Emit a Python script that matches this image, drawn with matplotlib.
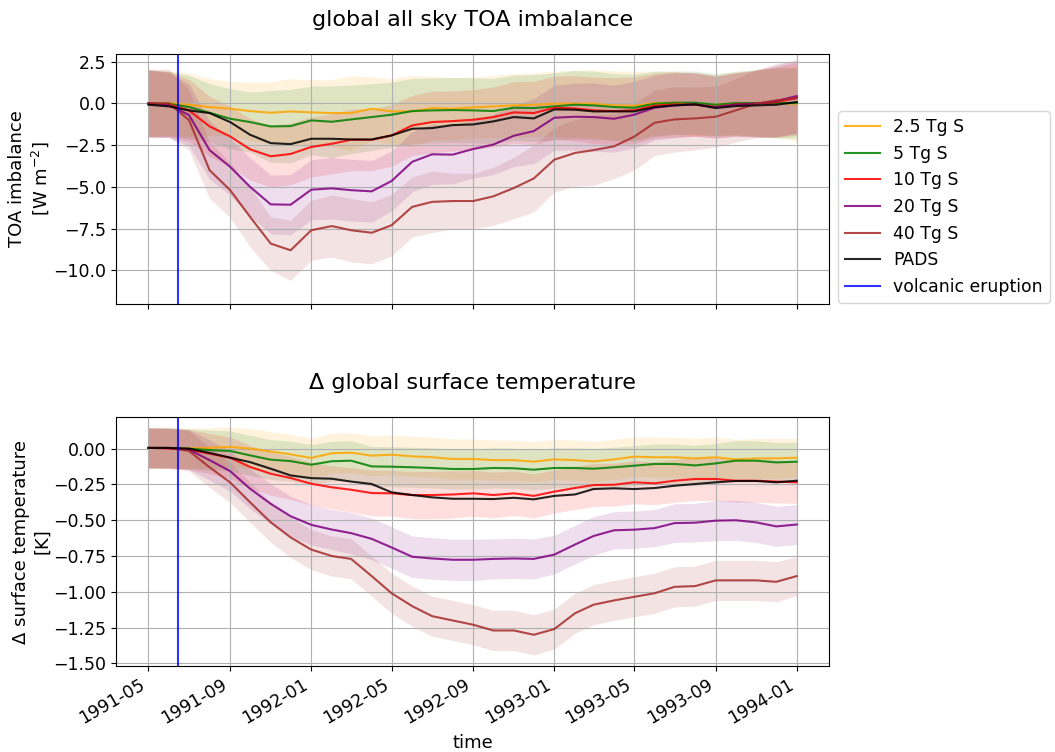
import matplotlib
matplotlib.use('Agg')
import matplotlib.pyplot as plt
import matplotlib.dates as mdates
import numpy as np
import pandas as pd

# monthly means 1991-05 .. 1994-01
months = pd.date_range('1991-05-01', '1994-01-01', freq='MS')
eruption = pd.Timestamp('1991-06-15')

labels = ['2.5 Tg S', '5 Tg S', '10 Tg S', '20 Tg S', '40 Tg S']
colors = ['orange', 'green', 'red', 'purple', 'brown']

# TOA imbalance (W m-2), ensemble mean
toa_25 = [0, 0.02, -0.08, -0.22, -0.32, -0.46, -0.56, -0.48, -0.54, -0.58, -0.58, -0.32, -0.48, -0.48, -0.28, -0.32,
          -0.24, -0.18, -0.12, -0.08, -0.02, -0.02, -0.02, -0.12, -0.14, 0.02, 0.02, -0.06, -0.08, -0.02, 0.02, 0.04, -0.02]
toa_5 = [0, -0.02, -0.22, -0.56, -0.92, -1.12, -1.38, -1.36, -1.02, -1.1, -0.96, -0.82, -0.68, -0.46, -0.42, -0.4,
         -0.42, -0.46, -0.26, -0.28, -0.18, -0.08, -0.12, -0.22, -0.26, -0.02, 0.04, 0.04, -0.08, 0.02, 0.02, 0.02, 0.02]
toa_10 = [0, -0.06, -0.42, -1.38, -1.98, -2.75, -3.17, -3.03, -2.61, -2.42, -2.18, -2.18, -1.92, -1.32, -1.12, -1.06,
          -0.98, -0.82, -0.54, -0.58, -0.26, -0.3, -0.42, -0.46, -0.42, -0.14, -0.06, -0.08, -0.22, -0.06, -0.02, 0.08, 0.32]
toa_20 = [0, -0.1, -0.7, -2.8, -3.8, -5.0, -6.05, -6.07, -5.17, -5.09, -5.2, -5.27, -4.65, -3.5, -3.05, -3.07,
          -2.73, -2.47, -1.94, -1.66, -0.86, -0.8, -0.82, -0.92, -0.68, -0.26, -0.12, -0.06, -0.22, -0.08, -0.02, 0.14, 0.44]
toa_40 = [0, 0, -1.0, -4.0, -5.2, -6.8, -8.4, -8.8, -7.6, -7.35, -7.6, -7.75, -7.3, -6.2, -5.9, -5.85,
          -5.85, -5.57, -5.07, -4.5, -3.37, -2.97, -2.8, -2.57, -2.0, -1.16, -0.96, -0.9, -0.8, -0.42, -0.02, 0.18, 0.32]
toa_pads = [-0.08, -0.18, -0.42, -0.58, -1.12, -1.88, -2.38, -2.44, -2.12, -2.12, -2.16, -2.16, -1.92, -1.52, -1.48, -1.3,
            -1.26, -1.08, -0.82, -0.9, -0.36, -0.38, -0.48, -0.48, -0.48, -0.22, -0.12, -0.06, -0.28, -0.16, -0.12, -0.08, 0.08]

# TOA ensemble spread (std)
toa_25_sd = [1.98, 1.92, 1.9, 1.7, 1.64, 1.74, 1.84, 1.96, 1.96, 2.0, 2.25, 1.9, 1.96, 2.15, 1.9, 1.86,
             1.82, 1.86, 1.9, 1.9, 1.96, 2.0, 2.04, 2.06, 2.08, 1.92, 1.86, 1.88, 1.82, 1.9, 2.0, 2.1, 2.24]
toa_5_sd = [2.0, 1.95, 1.9, 1.75, 1.8, 1.8, 2.15, 2.2, 2.05, 2.15, 2.05, 2.0, 1.95, 1.95, 1.95, 1.95,
            1.95, 1.95, 1.95, 2.0, 2.0, 2.05, 2.05, 2.0, 2.0, 1.95, 1.9, 1.9, 1.85, 1.9, 2.0, 2.1, 2.1]
toa_10_sd = [2.0, 1.95, 1.85, 1.8, 1.8, 1.85, 1.84, 1.85, 1.8, 1.8, 1.85, 1.85, 1.85, 1.8, 1.85, 1.8,
             1.8, 1.8, 1.85, 1.9, 1.9, 1.95, 2.0, 2.0, 2.0, 1.95, 1.95, 1.9, 1.85, 1.9, 2.0, 2.1, 2.15]
toa_20_sd = [2.0, 1.95, 1.85, 1.75, 1.7, 1.75, 1.76, 1.8, 1.8, 1.85, 1.85, 1.85, 1.8, 1.8, 1.8, 1.75,
             1.75, 1.8, 1.85, 1.95, 1.95, 2.0, 2.05, 2.0, 2.0, 1.95, 1.95, 1.9, 1.85, 1.9, 2.0, 2.15, 2.2]
toa_40_sd = [2.05, 2.05, 1.8, 1.7, 1.64, 1.8, 1.6, 1.8, 1.8, 1.86, 1.9, 1.86, 1.84, 1.8, 1.84, 1.66,
             1.66, 1.74, 1.84, 2.0, 1.94, 2.0, 2.1, 1.94, 2.0, 1.96, 1.96, 1.88, 1.82, 1.9, 2.04, 2.2, 2.24]

# surface temperature anomaly (K), ensemble mean
tas_25 = [0.005, 0.005, 0.002, 0.005, 0.012, 0.0, -0.02, -0.04, -0.065, -0.032, -0.028, -0.049, -0.042, -0.054, -0.06, -0.072,
          -0.072, -0.08, -0.08, -0.091, -0.075, -0.08, -0.089, -0.075, -0.056, -0.06, -0.06, -0.068, -0.06, -0.075, -0.068, -0.068, -0.063]
tas_5 = [0.005, 0.005, 0.0, -0.01, -0.016, -0.047, -0.077, -0.087, -0.112, -0.088, -0.084, -0.124, -0.126, -0.13, -0.135, -0.142,
         -0.142, -0.135, -0.137, -0.147, -0.135, -0.135, -0.14, -0.13, -0.119, -0.107, -0.107, -0.117, -0.103, -0.084, -0.084, -0.096, -0.091]
tas_10 = [0.005, 0.0, -0.007, -0.035, -0.063, -0.128, -0.175, -0.205, -0.245, -0.27, -0.287, -0.31, -0.312, -0.324, -0.324, -0.32,
          -0.312, -0.324, -0.312, -0.33, -0.30, -0.275, -0.254, -0.252, -0.235, -0.242, -0.224, -0.212, -0.212, -0.224, -0.224, -0.23, -0.235]
tas_20 = [0.005, 0.005, -0.007, -0.08, -0.157, -0.28, -0.385, -0.472, -0.532, -0.565, -0.59, -0.63, -0.69, -0.755, -0.767, -0.776,
          -0.776, -0.77, -0.767, -0.77, -0.74, -0.67, -0.61, -0.57, -0.566, -0.555, -0.52, -0.517, -0.503, -0.5, -0.515, -0.543, -0.53]
tas_40 = [0.005, 0.005, -0.016, -0.13, -0.236, -0.375, -0.514, -0.62, -0.705, -0.75, -0.77, -0.89, -1.01, -1.10, -1.17, -1.20,
          -1.23, -1.27, -1.27, -1.30, -1.26, -1.15, -1.09, -1.06, -1.035, -1.01, -0.965, -0.96, -0.92, -0.92, -0.92, -0.93, -0.89]
tas_pads = [0.005, 0.005, 0.0, -0.03, -0.063, -0.094, -0.14, -0.187, -0.206, -0.21, -0.23, -0.247, -0.305, -0.324, -0.34, -0.35,
            -0.35, -0.352, -0.343, -0.354, -0.33, -0.32, -0.282, -0.277, -0.282, -0.275, -0.259, -0.247, -0.235, -0.226, -0.226, -0.235, -0.224]

# surface temperature ensemble spread (std)
tas_25_sd = [0.14, 0.14, 0.14, 0.14, 0.14, 0.14, 0.14, 0.14, 0.14, 0.14, 0.14, 0.14, 0.14, 0.14, 0.14, 0.14,
             0.14, 0.14, 0.14, 0.14, 0.14, 0.14, 0.14, 0.14, 0.14, 0.14, 0.14, 0.14, 0.14, 0.14, 0.14, 0.14, 0.135]
tas_5_sd = [0.14, 0.14, 0.14, 0.14, 0.14, 0.14, 0.14, 0.14, 0.14, 0.14, 0.14, 0.14, 0.14, 0.14, 0.14, 0.14,
            0.14, 0.14, 0.14, 0.14, 0.14, 0.14, 0.14, 0.14, 0.14, 0.14, 0.14, 0.14, 0.14, 0.14, 0.14, 0.14, 0.135]
tas_10_sd = [0.14, 0.14, 0.14, 0.14, 0.145, 0.15, 0.15, 0.15, 0.15, 0.15, 0.155, 0.16, 0.16, 0.165, 0.165, 0.165,
             0.16, 0.16, 0.155, 0.155, 0.15, 0.15, 0.15, 0.15, 0.15, 0.15, 0.15, 0.15, 0.15, 0.15, 0.15, 0.15, 0.147]
tas_20_sd = [0.14, 0.14, 0.14, 0.14, 0.14, 0.14, 0.14, 0.14, 0.14, 0.14, 0.145, 0.145, 0.145, 0.145, 0.145, 0.144,
             0.144, 0.14, 0.14, 0.14, 0.135, 0.135, 0.135, 0.13, 0.13, 0.13, 0.135, 0.135, 0.14, 0.14, 0.14, 0.14, 0.14]
tas_40_sd = [0.14, 0.14, 0.14, 0.14, 0.14, 0.14, 0.14, 0.14, 0.14, 0.14, 0.14, 0.14, 0.14, 0.14, 0.14, 0.14,
             0.14, 0.14, 0.14, 0.14, 0.14, 0.14, 0.14, 0.14, 0.14, 0.14, 0.14, 0.14, 0.14, 0.14, 0.14, 0.14, 0.136]

toa_means = [toa_25, toa_5, toa_10, toa_20, toa_40]
toa_sds = [toa_25_sd, toa_5_sd, toa_10_sd, toa_20_sd, toa_40_sd]
tas_means = [tas_25, tas_5, tas_10, tas_20, tas_40]
tas_sds = [tas_25_sd, tas_5_sd, tas_10_sd, tas_20_sd, tas_40_sd]

fig, (ax1, ax2) = plt.subplots(2, 1, sharex=True, figsize=(10.55, 7.52), dpi=100)
fig.subplots_adjust(left=0.110, right=0.786, top=0.928, bottom=0.114, hspace=0.453)


def draw(ax, means, sds, pads):
    for m, s, c in zip(means, sds, colors):
        m = np.array(m)
        s = np.array(s)
        ax.fill_between(months, m - s, m + s, color=c, alpha=0.13, linewidth=0)
    for m, c, lab in zip(means, colors, labels):
        ax.plot(months, m, color=c, alpha=0.85, lw=1.5, label=lab)
    ax.plot(months, pads, color='black', alpha=0.85, lw=1.5, label='PADS')
    ax.axvline(eruption, color='blue', alpha=0.8, lw=1.5, label='volcanic eruption')
    ax.grid(True)
    ax.tick_params(labelsize=12.5)


draw(ax1, toa_means, toa_sds, toa_pads)
draw(ax2, tas_means, tas_sds, tas_pads)

ax1.set_ylim(-12.0, 2.95)
ax1.set_yticks([-10, -7.5, -5, -2.5, 0, 2.5])
ax2.set_ylim(-1.52, 0.223)
ax2.set_yticks([-1.5, -1.25, -1.0, -0.75, -0.5, -0.25, 0.0])

ax1.set_title('global all sky TOA imbalance', fontsize=16, pad=20)
ax2.set_title('Δ global surface temperature', fontsize=16, pad=20)
ax1.set_ylabel('TOA imbalance\n[W m$^{-2}$]', fontsize=13, labelpad=1.5)
ax2.set_ylabel('Δ surface temperature\n[K]', fontsize=13, labelpad=1.5)
ax2.set_xlabel('time', fontsize=13)

ax2.xaxis.set_major_locator(mdates.MonthLocator(bymonth=[1, 5, 9]))
ax2.xaxis.set_major_formatter(mdates.DateFormatter('%Y-%m'))
for lbl in ax2.get_xticklabels():
    lbl.set_rotation(30)
    lbl.set_ha('right')

ax1.legend(loc='lower left', bbox_to_anchor=(1.0126, 0.004), borderaxespad=0, fontsize=12.4)

fig.savefig('out.png', dpi=100)
